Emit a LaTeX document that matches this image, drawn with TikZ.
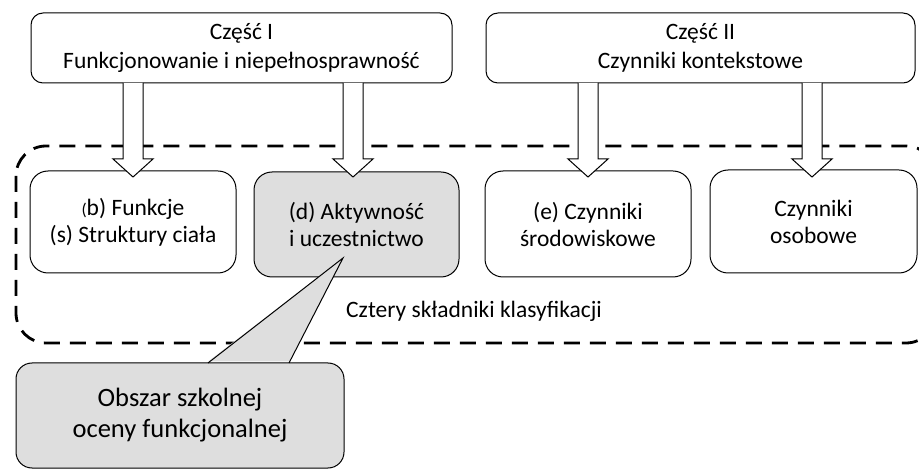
\documentclass[tikz,border=0pt]{standalone}
\usepackage{fontspec}
\setmainfont{Carlito}
\definecolor{boxgray}{RGB}{222,222,222}
\begin{document}
\begin{tikzpicture}[x=1pt,y=-1pt,
  partbox/.style={draw, line width=1pt, rounded corners=12pt, fill=white, align=center, inner sep=0pt,
     font=\fontsize{23.5}{28.5}\selectfont},
  compbox/.style={draw, line width=1pt, rounded corners=18pt, fill=white, align=center, inner sep=0pt,
     font=\fontsize{23.5}{27}\selectfont},
  grayfill/.style={fill=boxgray},
  blockarrow/.style={draw, line width=1pt, fill=white},
  dashedframe/.style={draw, line width=2.8pt, dash pattern=on 16pt off 10pt, rounded corners=30pt},
  calloutbox/.style={draw, line width=1pt, rounded corners=16pt, fill=boxgray, align=center, inner sep=0pt,
     font=\fontsize{26.5}{31}\selectfont}
]
\useasboundingbox (0,0) rectangle (919,470);

% dashed frame
\draw[dashedframe] (16,146) rectangle (936,343);
\node[font=\fontsize{23.5}{28}\selectfont] (lab) at (474,311) {Cztery składniki klasyfikacji};

% top boxes
\node[partbox, minimum width=421pt, minimum height=70pt] (p1) at (241.5,48) {Część I\\Funkcjonowanie i niepełnosprawność};
\node[partbox, minimum width=429pt, minimum height=70pt] (p2) at (700.5,48) {Część II\\Czynniki kontekstowe};

% component boxes
\node[compbox, minimum width=206pt, minimum height=102pt] (b) at (133,222) {{\fontsize{17}{20}\selectfont(}b) Funkcje\\(s) Struktury ciała};
\node[compbox, grayfill, minimum width=205pt, minimum height=105pt] (d) at (356.5,224.5) {(d) Aktywność\\i uczestnictwo};
\node[compbox, minimum width=206pt, minimum height=106pt] (e) at (588,224) {(e) Czynniki\\środowiskowe};
\node[compbox, minimum width=207pt, minimum height=103pt] (o) at (813.5,221.5) {Czynniki\\osobowe};

% block arrows
\foreach \cx/\src/\dst in {133/p1/b, 353/p1/d, 588/p2/e, 812/p2/o}{
  \draw[blockarrow] (\cx-10,83) -- (\cx-10,159) -- (\cx-20,159) -- (\cx,177) -- (\cx+20,159) -- (\cx+10,159) -- (\cx+10,83);
}

% callout
\node[calloutbox, minimum width=328pt, minimum height=105pt] (c) at (180,415.5) {Obszar szkolnej\\oceny funkcjonalnej};
\coordinate (tip) at (343,258);
\coordinate (bl) at (208,363);
\coordinate (br) at (289,363);
\fill[boxgray] ([yshift=1.5pt]bl) -- (tip) -- ([yshift=1.5pt]br) -- cycle;
\draw[line width=1pt, line join=miter] (bl) -- (tip) -- (br);
\end{tikzpicture}
\end{document}
